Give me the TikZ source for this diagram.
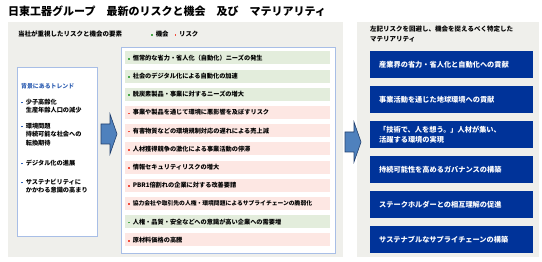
\documentclass[tikz,border=0pt]{standalone}
\usepackage{fontspec}
\setmainfont{Noto Sans CJK JP}
\usetikzlibrary{positioning}

\definecolor{panelgray}{HTML}{EFEFEB}
\definecolor{boxedge}{HTML}{A8BEE6}
\definecolor{oppgreen}{HTML}{E3EDDC}
\definecolor{riskpink}{HTML}{FDE7E3}
\definecolor{greenmark}{HTML}{4BA84B}
\definecolor{redmark}{HTML}{F04E3E}
\definecolor{matblue}{HTML}{003399}
\definecolor{trendblue}{HTML}{2F5FB3}
\definecolor{arrowblue}{HTML}{4F81BD}
\definecolor{arrowedge}{HTML}{22406E}

% small square bullet
\newcommand{\mk}[1]{\textcolor{#1}{\rule[0.8pt]{1.6pt}{1.6pt}}\hspace{3pt}}

\begin{document}
\begin{tikzpicture}[
  x = 1pt, y = -1pt,
  panel/.style = {fill=panelgray, inner sep=0pt, anchor=north west},
  frame/.style = {draw=boxedge, fill=white, line width=0.7pt, inner sep=0pt, anchor=north west},
  item/.style = {anchor=west, inner xsep=3pt, inner ysep=0pt, text width=199pt,
    minimum height=13pt, align=left, font=\bfseries\fontsize{6.2}{7}\selectfont},
  matbox/.style = {fill=matblue, text=white, anchor=north west, inner xsep=9pt, inner ysep=0pt,
    text width=145pt, minimum height=27pt, align=left, font=\bfseries\fontsize{7.2}{10}\selectfont},
  head/.style = {anchor=west, inner sep=0pt, font=\bfseries\fontsize{6.5}{10}\selectfont},
  bigarrow/.style = {fill=arrowblue, draw=arrowedge, line width=0.6pt, line join=miter},
]
\useasboundingbox (0,0) rectangle (542,262);

% title
\node[anchor=west, inner sep=0pt, font=\bfseries\fontsize{11}{13}\selectfont] (title) at (8,11)
  {日東工器グループ　最新のリスクと機会　及び　マテリアリティ};

% panels
\node[panel, minimum width=335pt, minimum height=235pt] (lpanel) at (8,22) {};
\node[panel, minimum width=182pt, minimum height=235pt] (rpanel) at (357,22) {};

\node[head] (lhead) at (18,34) {当社が重視したリスクと機会の要素};
\node[head, font=\bfseries\fontsize{6.4}{10}\selectfont] (legend) at (151,34)
  {\mk{greenmark}機会\hspace{6pt}\mk{redmark}リスク};
\node[head, anchor=north west, align=left] (rhead) at (370,26)
  {左記リスクを回避し、機会を捉えるべく特定した\\マテリアリティ};

% trends
\node[frame, minimum width=80pt, minimum height=169pt] (trend) at (17,67) {};
\node[anchor=north west, inner sep=0pt, align=left, font=\bfseries\fontsize{6.2}{8.5}\selectfont] (trendtxt)
  at ([shift={(4,16)}]trend.north west) {%
  {\color{trendblue}\fontsize{5.9}{8.5}\selectfont 背景にあるトレンド}\\[7.5pt]
  \mk{trendblue}少子高齢化\\\hspace*{4.6pt}生産年齢人口の減少\\[7pt]
  \mk{trendblue}環境問題\\\hspace*{4.6pt}持続可能な社会への\\\hspace*{4.6pt}転換期待\\[11.5pt]
  \mk{trendblue}デジタル化の進展\\[10.5pt]
  \mk{trendblue}サステナビリティに\\\hspace*{4.6pt}かかわる意識の高まり};

% risks and opportunities
\node[frame, minimum width=214pt, minimum height=206pt] (risks) at (121,47) {};
\foreach \txt/\fcol/\mcol [count=\i] in {
  恒常的な省力・省人化（自動化）ニーズの発生/oppgreen/greenmark,
  社会のデジタル化による自動化の加速/oppgreen/greenmark,
  脱炭素製品・事業に対するニーズの増大/oppgreen/greenmark,
  事業や製品を通じて環境に悪影響を及ぼすリスク/riskpink/redmark,
  有害物質などの環境規制対応の遅れによる売上減/riskpink/redmark,
  人材獲得競争の激化による事業活動の停滞/riskpink/redmark,
  情報セキュリティリスクの増大/riskpink/redmark,
  PBR1倍割れの企業に対する改善要請/riskpink/redmark,
  {{\fontsize{5.8}{7}\selectfont 協力会社や取引先の人権・環境問題によるサプライチェーンの脆弱化}}/riskpink/redmark,
  人権・品質・安全などへの意識が高い企業への需要増/oppgreen/greenmark,
  原材料価格の高騰/riskpink/redmark}
  \node[item, fill=\fcol] (it\i) at (125,{58+18.2*(\i-1)}) {\mk{\mcol}\txt};

% materiality
\foreach \txt [count=\i] in {
  産業界の省力・省人化と自動化への貢献,
  事業活動を通じた地球環境への貢献,
  {「技術で、人を想う。」人材が集い、\\活躍する環境の実現},
  持続可能性を高めるガバナンスの構築,
  ステークホルダーとの相互理解の促進,
  サステナブルなサプライチェーンの構築}
  \node[matbox] (mat\i) at (370,{51+35*(\i-1)}) {\txt};

% block arrows
\coordinate (arrL) at (101,134);
\coordinate (arrR) at (345,142);
\foreach \a in {arrL,arrR}
  \draw[bigarrow] (\a) ++(0,-10) -- ++(9,0) -- ++(0,-10) -- ++(7,20) -- ++(-7,20)
    -- ++(0,-10) -- ++(-9,0) -- cycle;

\end{tikzpicture}
\end{document}
